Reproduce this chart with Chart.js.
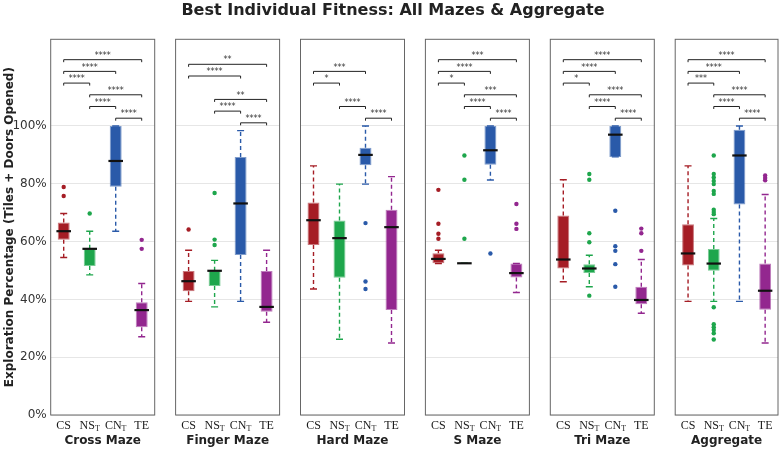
<!DOCTYPE html>
<html>
<head>
<meta charset="utf-8">
<script src="https://cdn.jsdelivr.net/npm/chart.js@4.4.1/dist/chart.umd.min.js"></script>
<style>
  body { margin: 0; background: #fff; }
  #wrap { position: relative; width: 782px; height: 449px; }
  #wrap canvas { position: absolute; left: 0; top: 0; }
</style>
</head>
<body>
<div id="wrap"></div>
<script>
const chartTitle = 'Best Individual Fitness: All Mazes & Aggregate';
const yTitle = 'Exploration Percentage (Tiles + Doors Opened)';
const panelNames = ['Cross Maze', 'Finger Maze', 'Hard Maze', 'S Maze', 'Tri Maze', 'Aggregate'];
const groups = ['CS', 'NS', 'CN', 'TE'];
const groupSubs = ['', 'T', 'T', ''];
const groupColors = ['#a51d25', '#1ea64c', '#2a5aa9', '#93278f'];
const yTicks = [0, 20, 40, 60, 80, 100];

// box stats, one row per panel, one value per group (CS, NS_T, CN_T, TE), in %
const whiskerLow = [
  [54.5, 48.5, 63.6, 27.1],
  [39.3, 37.4, 39.3, 32.1],
  [43.6, 26.2, 79.9, 24.9],
  [52.4, 52.5, 81.3, 42.4],
  [46.1, 44.4, 89.3, 35.2],
  [39.3, 39.3, 39.3, 24.9]
];
const q1 = [
  [60.6, 51.6, 79.0, 30.4],
  [42.8, 44.6, 55.4, 35.7],
  [58.8, 47.5, 86.4, 36.3],
  [52.5, 52.5, 86.6, 47.6],
  [50.7, 49.1, 89.3, 38.3],
  [51.7, 49.9, 72.8, 36.4]
];
const medians = [
  [63.6, 57.5, 87.9, 36.3],
  [46.3, 49.9, 73.2, 37.4],
  [67.4, 61.2, 90.0, 65.0],
  [54.0, 52.5, 91.6, 49.1],
  [53.8, 50.7, 97.0, 39.8],
  [55.9, 52.4, 89.8, 43.0]
];
const q3 = [
  [66.6, 57.5, 100, 39.0],
  [49.8, 49.9, 89.3, 49.8],
  [73.5, 67.3, 92.5, 71.0],
  [56.0, 52.5, 100, 52.4],
  [69.0, 52.2, 100, 44.4],
  [66.0, 57.4, 98.7, 52.4]
];
const whiskerHigh = [
  [69.7, 63.6, 100, 45.5],
  [57.0, 53.5, 98.4, 57.0],
  [86.2, 79.9, 100, 82.5],
  [57.0, 52.5, 100, 52.4],
  [81.4, 55.3, 100, 53.8],
  [86.2, 68.0, 100, 76.3]
];
const outliers = [
  [[78.9, 75.8], [69.7], [], [60.6, 57.5]],
  [[64.2], [76.8, 60.7, 58.8], [], []],
  [[], [], [66.4, 46.2, 43.6], []],
  [[77.9, 66.2, 62.7, 61.0], [89.8, 81.4, 61.0], [55.9], [73.0, 66.2, 64.4]],
  [[], [83.4, 81.4, 62.9, 59.8, 41.3], [70.7, 58.4, 56.8, 52.2, 44.4], [64.5, 62.9, 56.8]],
  [[], [89.8, 83.4, 82.2, 81.0, 79.9, 77.5, 76.5, 71.0, 70.2, 69.5, 37.3, 31.4, 30.4, 29.4, 28.3, 26.1], [], [82.9, 82.0, 81.2]]
];

// significance brackets: pairs of groups, stars per panel ('' = not shown)
const pairs = [[2, 3], [1, 2], [1, 3], [0, 1], [0, 2], [0, 3]];
const signif = [
  ['****', '****', '****', '****', '****', '****'],
  ['****', '****', '**', '', '****', '**'],
  ['****', '****', '', '*', '***', ''],
  ['****', '****', '***', '*', '****', '***'],
  ['****', '****', '****', '*', '****', '****'],
  ['****', '****', '****', '***', '****', '****']
];

const W = 782, H = 449;
const firstLeft = 50.7, panelStep = 124.9, panelWidth = 104;
const plotTop = 39.3, xAxisHeight = 34;

const boxExtras = {
  id: 'boxExtras',
  beforeDatasetsDraw(chart, args, opts) {
    const p = opts.panel;
    const { ctx, scales: { x, y } } = chart;
    ctx.save();
    ctx.lineWidth = 1.4;
    groups.forEach((g, i) => {
      const cx = x.getPixelForValue(i);
      ctx.strokeStyle = groupColors[i];
      // dashed whiskers
      ctx.setLineDash([4, 3]);
      ctx.beginPath();
      ctx.moveTo(cx, y.getPixelForValue(q3[p][i]));
      ctx.lineTo(cx, y.getPixelForValue(whiskerHigh[p][i]));
      ctx.moveTo(cx, y.getPixelForValue(q1[p][i]));
      ctx.lineTo(cx, y.getPixelForValue(whiskerLow[p][i]));
      ctx.stroke();
      // caps
      ctx.setLineDash([]);
      ctx.beginPath();
      [whiskerHigh[p][i], whiskerLow[p][i]].forEach(v => {
        const py = y.getPixelForValue(v);
        ctx.moveTo(cx - 3.5, py);
        ctx.lineTo(cx + 3.5, py);
      });
      ctx.stroke();
    });
    ctx.restore();
  },
  afterDatasetsDraw(chart, args, opts) {
    const p = opts.panel;
    const { ctx, chartArea: a, scales: { x, y } } = chart;
    const bars = chart.getDatasetMeta(0).data;
    ctx.save();
    // medians
    ctx.strokeStyle = '#111';
    ctx.lineWidth = 2.2;
    groups.forEach((g, i) => {
      const bar = bars[i];
      const py = y.getPixelForValue(medians[p][i]);
      ctx.beginPath();
      ctx.moveTo(bar.x - bar.width / 2 - 1.3, py);
      ctx.lineTo(bar.x + bar.width / 2 + 1.3, py);
      ctx.stroke();
    });
    // brackets, stacked above the highest value of the panel
    const top = Math.max(...whiskerHigh[p], ...q3[p], ...outliers[p].flat());
    ctx.lineWidth = 1;
    ctx.strokeStyle = '#222';
    ctx.fillStyle = '#333';
    ctx.font = '8px "DejaVu Sans"';
    ctx.textAlign = 'center';
    ctx.textBaseline = 'alphabetic';
    pairs.forEach(([a1, b1], k) => {
      const stars = signif[p][k];
      if (!stars) return;
      const py = y.getPixelForValue(top + 2.7 + k * 4.05);
      const x1 = x.getPixelForValue(a1), x2 = x.getPixelForValue(b1);
      ctx.beginPath();
      ctx.moveTo(x1, py + 2.5);
      ctx.lineTo(x1, py);
      ctx.lineTo(x2, py);
      ctx.lineTo(x2, py + 2.5);
      ctx.stroke();
      ctx.fillText(stars, (x1 + x2) / 2, py - 1.8);
    });
    // panel frame
    ctx.strokeStyle = '#666';
    ctx.lineWidth = 1;
    ctx.strokeRect(a.left, a.top, a.right - a.left, a.bottom - a.top);
    ctx.restore();
  },
  afterDraw(chart, args, opts) {
    const { ctx, scales: { x } } = chart;
    ctx.save();
    ctx.fillStyle = '#1a1a1a';
    ctx.textBaseline = 'alphabetic';
    ctx.textAlign = 'left';
    groups.forEach((g, i) => {
      const cx = x.getPixelForValue(i);
      ctx.font = '12px "Liberation Serif"';
      const mw = ctx.measureText(g).width;
      ctx.font = '8px "Liberation Serif"';
      const sw = groupSubs[i] ? ctx.measureText(groupSubs[i]).width : 0;
      const sx = cx - (mw + sw) / 2;
      ctx.font = '12px "Liberation Serif"';
      ctx.fillText(g, sx, x.top + 13.5);
      if (groupSubs[i]) {
        ctx.font = '8px "Liberation Serif"';
        ctx.fillText(groupSubs[i], sx + mw, x.top + 16);
      }
    });
    if (opts.panel === 0) {
      ctx.font = 'bold 16px "DejaVu Sans"';
      ctx.textAlign = 'center';
      ctx.textBaseline = 'middle';
      ctx.fillStyle = '#222';
      ctx.fillText(chartTitle, W / 2 + 2, 10.5);
    }
    ctx.restore();
  }
};

const wrap = document.getElementById('wrap');

panelNames.forEach((name, p) => {
  const left = firstLeft + p * panelStep;
  const right = left + panelWidth;
  const canvas = document.createElement('canvas');
  canvas.width = W;
  canvas.height = H;
  wrap.appendChild(canvas);

  const datasets = [{
    type: 'bar',
    data: groups.map((g, i) => [q1[p][i], q3[p][i]]),
    backgroundColor: groupColors,
    borderColor: groupColors.map(c => c + '99'),
    borderWidth: 1,
    borderSkipped: false,
    barPercentage: 0.46,
    categoryPercentage: 1
  }];
  groups.forEach((g, i) => {
    datasets.push({
      type: 'line',
      showLine: false,
      data: outliers[p][i].map(v => ({ x: g, y: v })),
      pointRadius: 2.2,
      pointBorderWidth: 0,
      pointBackgroundColor: groupColors[i],
      pointBorderColor: groupColors[i]
    });
  });

  new Chart(canvas.getContext('2d'), {
    type: 'bar',
    data: { labels: groups, datasets },
    options: {
      responsive: false,
      animation: false,
      devicePixelRatio: 1,
      layout: { padding: { left: p === 0 ? 0 : left, right: W - right, top: plotTop, bottom: 0 } },
      plugins: {
        legend: { display: false },
        tooltip: { enabled: false },
        boxExtras: { panel: p }
      },
      scales: {
        x: {
          grid: { display: false },
          border: { display: false },
          ticks: { display: false },
          title: {
            display: true,
            text: name,
            color: '#222',
            font: { family: 'DejaVu Sans', size: 12, weight: 'bold' },
            padding: { top: 0, bottom: 1.3 }
          },
          afterFit: s => { s.height = xAxisHeight; }
        },
        y: {
          min: 0,
          max: 130,
          grid: { color: '#e6e6e6', drawTicks: false },
          border: { display: false },
          afterBuildTicks: s => { s.ticks = yTicks.map(v => ({ value: v })); },
          ticks: {
            display: p === 0,
            padding: 4,
            color: '#333',
            font: { family: 'DejaVu Sans', size: 12 },
            callback: v => v + '%'
          },
          title: {
            display: p === 0,
            text: yTitle,
            color: '#222',
            font: { family: 'DejaVu Sans', size: 12, weight: 'bold' },
            padding: { top: 3, bottom: 0 }
          },
          afterFit: s => { s.width = p === 0 ? firstLeft : 0; }
        }
      }
    },
    plugins: [boxExtras]
  });
});
</script>
</body>
</html>
